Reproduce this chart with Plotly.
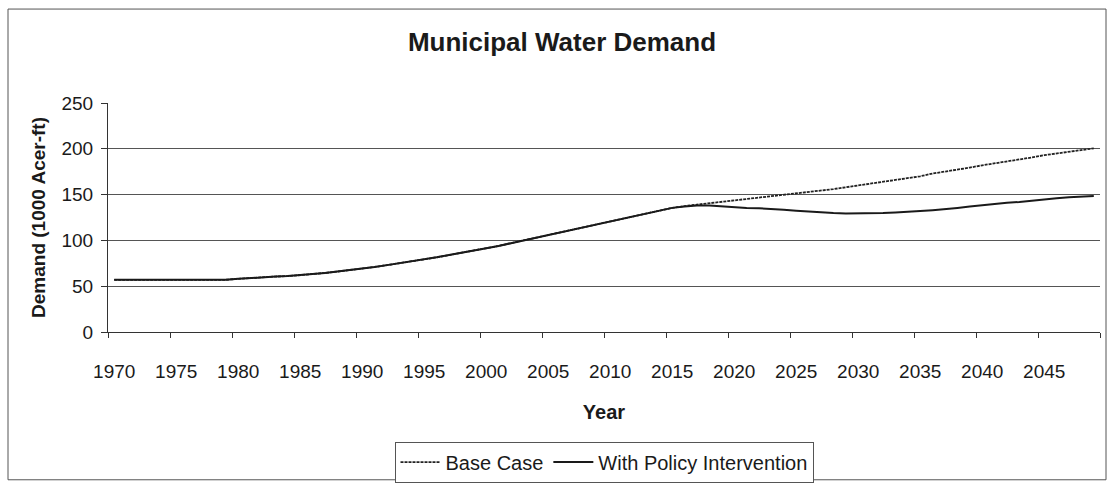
import plotly.graph_objects as go

# Years covered by the projection (one category per year)
years = list(range(1970, 2050))

# Municipal demand, thousand acre-feet
base_case = [
    57, 57, 57, 57, 57, 57, 57, 57, 57, 57,            # 1970-1979
    58, 59, 60, 60.5, 61, 62, 63, 64.5, 66, 67.5,      # 1980-1989
    69, 71, 73, 75, 77, 79, 81.5, 84, 86.5, 89,        # 1990-1999
    91, 94, 97, 100, 103, 106, 109, 112, 115, 118,     # 2000-2009
    121, 124, 127, 130, 133, 135.5, 137.5, 139, 140.5, 142,   # 2010-2019
    143.5, 145, 146.5, 148, 149.5, 151, 152.5, 154.5, 156, 158,  # 2020-2029
    160, 162, 164, 166, 168, 170, 173, 175, 177.5, 179.5,      # 2030-2039
    182, 184, 186, 188.5, 190.5, 193, 195, 197, 199, 200.5,    # 2040-2049
]

with_policy = [
    57, 57, 57, 57, 57, 57, 57, 57, 57, 57,
    58, 59, 60, 60.5, 61, 62, 63, 64.5, 66, 67.5,
    69, 71, 73, 75, 77, 79, 81.5, 84, 86.5, 89,
    91, 94, 97, 100, 103, 106, 109, 112, 115, 118,
    121, 124, 127, 130, 133, 135.5, 137, 138, 138, 137,
    136, 135.5, 135, 134.5, 133.5, 132.5, 131.5, 130.5, 130, 129.5,
    129.5, 129.5, 130, 130.5, 131, 132, 133, 134, 135.5, 137,
    138.5, 140, 141, 142, 143.5, 145, 146, 147, 148, 148.5,
]

tick_years = list(range(1970, 2050, 5))

FONT = "Liberation Sans, Arial, sans-serif"
INK = "#1a1a1a"

fig = go.Figure()
fig.add_trace(go.Scatter(
    x=years, y=base_case, mode="lines", name="Base Case",
    line=dict(color="#222222", width=1.8, dash="3px,1px"),
))
fig.add_trace(go.Scatter(
    x=years, y=with_policy, mode="lines", name="With Policy Intervention",
    line=dict(color=INK, width=2),
))

# plot area spans 992 x 234 px; outer chart frame expressed in paper units
PW, PH = 992.0, 234.0

fig.update_layout(
    width=1108, height=491,
    margin=dict(l=108, r=8, t=103, b=154),
    paper_bgcolor="white", plot_bgcolor="white",
    font=dict(family=FONT, color=INK, size=19),
    title=dict(
        text="<b>Municipal Water Demand</b>",
        x=(562 - 108) / PW, xref="paper", xanchor="center",
        y=1 - 42 / 491, yref="container", yanchor="middle",
        font=dict(size=26, family=FONT, color=INK),
    ),
    showlegend=True,
    legend=dict(
        orientation="h", x=(604 - 108) / PW, xanchor="center",
        y=(337 - 449) / PH, yanchor="top",
        bordercolor="#555555", borderwidth=1, bgcolor="white",
        font=dict(size=20, family=FONT, color=INK),
        itemwidth=40, tracegroupgap=0,
    ),
    shapes=[dict(
        type="rect", xref="paper", yref="paper",
        x0=(8 - 108) / PW, x1=(1106 - 108) / PW,
        y0=(337 - 488) / PH, y1=(337 - 7) / PH,
        line=dict(color="#555555", width=1), layer="below",
    )],
)

fig.update_xaxes(
    range=[1969.5, 2049.5], automargin=False,
    tickmode="array", tickvals=tick_years, ticktext=[str(y) for y in tick_years],
    ticks="", ticklabelstandoff=22, showgrid=False, zeroline=False,
    showline=True, linecolor="#333333", linewidth=1,
    tickfont=dict(size=19, family=FONT, color=INK),
    minor=dict(tickmode="linear", tick0=1969.5, dtick=5,
               ticks="outside", ticklen=5, tickcolor="#333333", showgrid=False),
    title=dict(text="<b>Year</b>", font=dict(size=20, family=FONT, color=INK), standoff=24),
)
fig.update_yaxes(
    range=[0, 250], automargin=False, tickmode="linear", tick0=0, dtick=50,
    ticks="outside", ticklen=6, tickcolor="#333333", ticklabelstandoff=4,
    showgrid=True, gridcolor="#555555", gridwidth=1, zeroline=False,
    showline=True, linecolor="#333333", linewidth=1,
    tickfont=dict(size=19, family=FONT, color=INK),
    title=dict(text="<b>Demand (1000 Acer-ft)</b>",
               font=dict(size=19, family=FONT, color=INK), standoff=10),
)

fig.write_html("out.html")
